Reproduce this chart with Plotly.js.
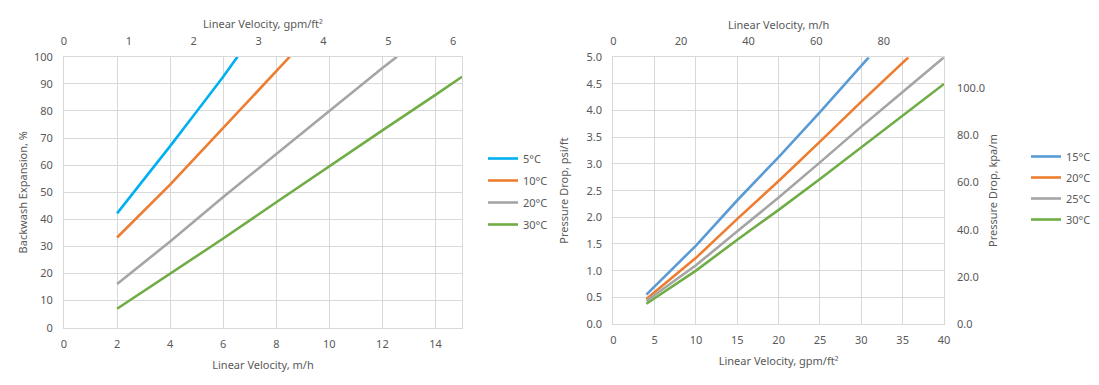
<!DOCTYPE html>
<html><head><meta charset="utf-8">
<script src="https://cdn.plot.ly/plotly-3.0.1.min.js"></script>
<style>html,body{margin:0;padding:0;background:#fff}</style>
</head><body><div id="chart" style="width:1099px;height:385px"></div>
<script>
// ---- Left chart: Backwash Expansion (%) vs Linear Velocity (m/h)
const expNames = ['5°C', '10°C', '20°C', '30°C'];
const exp5X  = [2, 3, 4, 5, 6, 6.54];
const exp5Y  = [42.2, 54.5, 67, 79.8, 92.6, 100];
const exp10X = [2, 3, 4, 6, 8, 8.51];
const exp10Y = [33.3, 43.2, 52.8, 73.7, 94.7, 100];
const exp20X = [2, 4, 6, 8, 10, 12, 12.55];
const exp20Y = [16.1, 31.8, 48.2, 64.2, 80, 95.8, 100];
const exp30X = [2, 4, 6, 8, 10, 12, 14, 15];
const exp30Y = [7, 20, 32.9, 46.3, 59.7, 72.8, 85.9, 92.6];

// ---- Right chart: Pressure Drop (psi/ft) vs Linear Velocity (gpm/ft2)
const dpNames = ['15°C', '20°C', '25°C', '30°C'];
const dp15X = [4, 10, 15, 20, 25, 30.9];
const dp15Y = [0.55, 1.47, 2.32, 3.13, 3.97, 5.0];
const dp20X = [4, 10, 15, 20, 25, 30, 35.7];
const dp20Y = [0.47, 1.24, 1.97, 2.68, 3.42, 4.17, 5.0];
const dp25X = [4, 10, 15, 20, 25, 30, 35, 40];
const dp25Y = [0.43, 1.10, 1.74, 2.37, 3.03, 3.70, 4.35, 5.0];
const dp30X = [4, 10, 15, 20, 25, 30, 35, 40];
const dp30Y = [0.38, 1.0, 1.58, 2.14, 2.72, 3.31, 3.9, 4.5];

// unit conversions for secondary axes
const GPM_TO_MH = 2.445;   // 1 gpm/ft2 = 2.445 m/h
const PSI_TO_KPA = 22.62;  // 1 psi/ft = 22.62 kPa/m

const leftColors = ['#00B0F0', '#ED7D31', '#A5A5A5', '#70AD47'];
const rightColors = ['#5B9BD5', '#ED7D31', '#A5A5A5', '#70AD47'];
const txt = '#595959';
const grid = '#D9D9D9';
const FONT = {family: 'Noto Sans, Open Sans, sans-serif', size: 11, color: txt};

const leftX = [exp5X, exp10X, exp20X, exp30X];
const leftY = [exp5Y, exp10Y, exp20Y, exp30Y];
const rightX = [dp15X, dp20X, dp25X, dp30X];
const rightY = [dp15Y, dp20Y, dp25Y, dp30Y];

const traces = [];
expNames.forEach((n, i) => traces.push({
  x: leftX[i], y: leftY[i], name: n, mode: 'lines', type: 'scatter',
  line: {color: leftColors[i], width: 2.6}, xaxis: 'x', yaxis: 'y',
  legend: 'legend', legendgroup: 'L' + i, hoverinfo: 'x+y+name'
}));
dpNames.forEach((n, i) => traces.push({
  x: rightX[i], y: rightY[i], name: n, mode: 'lines', type: 'scatter',
  line: {color: rightColors[i], width: 2.6}, xaxis: 'x3', yaxis: 'y3',
  legend: 'legend2', legendgroup: 'R' + i, hoverinfo: 'x+y+name'
}));
// empty helper traces so the secondary (unit-conversion) axes are drawn
[['x2', 'y'], ['x4', 'y3'], ['x3', 'y4']].forEach(([xa, ya]) => traces.push({
  x: [null], y: [null], xaxis: xa, yaxis: ya, mode: 'lines', type: 'scatter',
  showlegend: false, hoverinfo: 'skip'
}));

const W = 1099, H = 385;
const L = {x0: 64, x1: 462, y0: 56.7, y1: 327.7};
const R = {x0: 613.3, x1: 944, y0: 57.3, y1: 324};
const dx = (a, b) => [a / W, b / W];
const dy = (top, bot) => [1 - bot / H, 1 - top / H];

const axBase = {
  showgrid: true, gridcolor: grid, gridwidth: 1, zeroline: false,
  showline: true, linecolor: grid, linewidth: 1, ticks: '',
  tickfont: FONT, fixedrange: true
};

const layout = {
  width: W, height: H, margin: {l: 0, r: 0, t: 0, b: 0},
  paper_bgcolor: '#fff', plot_bgcolor: '#fff', font: FONT,
  showlegend: true,
  xaxis: Object.assign({}, axBase, {
    domain: dx(L.x0, L.x1), anchor: 'y', range: [0, 15], dtick: 2, tick0: 0,
    mirror: true, ticklabelstandoff: 6,
    title: {text: 'Linear Velocity, m/h', font: FONT, standoff: 11}
  }),
  xaxis2: Object.assign({}, axBase, {
    domain: dx(L.x0, L.x1), anchor: 'y', overlaying: 'x', side: 'top',
    range: [0, 15 / GPM_TO_MH], dtick: 1, tick0: 0, showgrid: false, showline: false,
    ticklabelstandoff: 9,
    title: {text: 'Linear Velocity, gpm/ft²', font: FONT, standoff: 1}
  }),
  yaxis: Object.assign({}, axBase, {
    domain: dy(L.y0, L.y1), anchor: 'x', range: [0, 100], dtick: 10, tick0: 0,
    mirror: true, ticklabelstandoff: 8,
    title: {text: 'Backwash Expansion, %', font: FONT, standoff: 4}
  }),
  xaxis3: Object.assign({}, axBase, {
    domain: dx(R.x0, R.x1), anchor: 'y3', range: [0, 40], dtick: 5, tick0: 0,
    mirror: true, ticklabelstandoff: 6,
    title: {text: 'Linear Velocity, gpm/ft²', font: FONT, standoff: 11}
  }),
  xaxis4: Object.assign({}, axBase, {
    domain: dx(R.x0, R.x1), anchor: 'y3', overlaying: 'x3', side: 'top',
    range: [0, 40 * GPM_TO_MH], dtick: 20, tick0: 0, showgrid: false, showline: false,
    ticklabelstandoff: 9,
    title: {text: 'Linear Velocity, m/h', font: FONT, standoff: 1}
  }),
  yaxis3: Object.assign({}, axBase, {
    domain: dy(R.y0, R.y1), anchor: 'x3', range: [0, 5], dtick: 0.5, tick0: 0,
    tickformat: '.1f', mirror: true, ticklabelstandoff: 8,
    title: {text: 'Pressure Drop, psi/ft', font: FONT, standoff: 15}
  }),
  yaxis4: Object.assign({}, axBase, {
    domain: dy(R.y0, R.y1), anchor: 'x3', overlaying: 'y3', side: 'right',
    range: [0, 5 * PSI_TO_KPA], dtick: 20, tick0: 0, tickformat: '.1f',
    showgrid: false, showline: false, ticklabelstandoff: 12,
    title: {text: 'Pressure Drop, kpa/m', font: FONT, standoff: 5}
  }),
  legend: {
    x: 483 / W, y: 1 - 144 / H, xanchor: 'left', yanchor: 'top',
    font: FONT, bgcolor: 'rgba(0,0,0,0)', borderwidth: 0,
    traceorder: 'grouped', tracegroupgap: 3
  },
  legend2: {
    x: 1026 / W, y: 1 - 142 / H, xanchor: 'left', yanchor: 'top',
    font: FONT, bgcolor: 'rgba(0,0,0,0)', borderwidth: 0,
    traceorder: 'grouped', tracegroupgap: 2
  }
};

Plotly.newPlot('chart', traces, layout, {displayModeBar: false, staticPlot: true});
</script></body></html>
